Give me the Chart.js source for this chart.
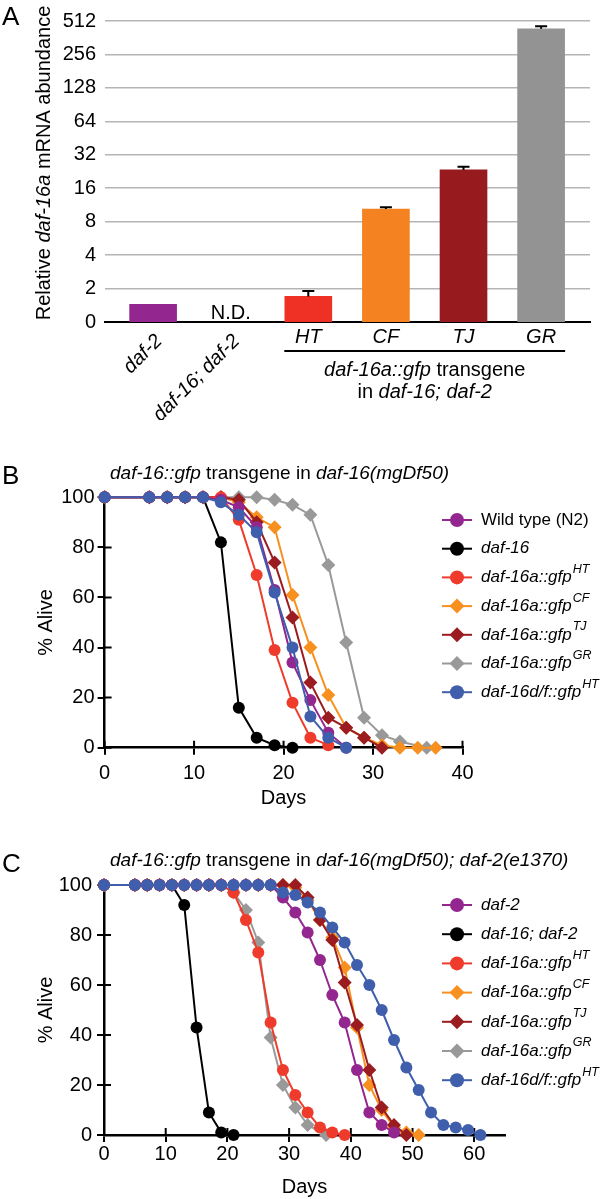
<!DOCTYPE html>
<html>
<head>
<meta charset="utf-8">
<title>daf-16a abundance and lifespan</title>
<script src="https://cdn.jsdelivr.net/npm/chart.js@4.4.1/dist/chart.umd.min.js"></script>
<style>
  body { margin: 0; background: #fff; }
  #page { position: relative; width: 600px; height: 1199px; overflow: hidden; }
  canvas { position: absolute; left: 0; }
</style>
</head>
<body>
<div id="page">
  <canvas id="chartA" width="600" height="420" style="top:0"></canvas>
  <canvas id="chartB" width="600" height="360" style="top:455px"></canvas>
  <canvas id="chartC" width="600" height="359" style="top:840px"></canvas>
</div>
<script>
// ---------- panel A: relative daf-16a mRNA ----------
const geneLabels = ['daf-2', 'daf-16; daf-2', 'HT', 'CF', 'TJ', 'GR'];
const abundance = [1.44, null, 1.7, 10.4, 23.4, 436];
const abundanceErrTop = [null, null, 1.9, 10.8, 25, 459];
const abundanceTicks = [1, 2, 4, 8, 16, 32, 64, 128, 256, 512];
const barColors = ['#93278f', 'rgba(0,0,0,0)', '#ee3124', '#f58220', '#971b1e', '#939393'];

// ---------- panel B: daf-16(mgDf50) background ----------
const bLabels = ['Wild type (N2)', 'daf-16', 'daf-16a::gfp^HT', 'daf-16a::gfp^CF', 'daf-16a::gfp^TJ', 'daf-16a::gfp^GR', 'daf-16d/f::gfp^HT'];
const bItalic = [false, true, true, true, true, true, true];
const bWildTypeDays = [0, 5, 7, 9, 11, 13, 15, 17, 19, 21, 23, 25, 27];
const bWildTypeAlive = [100, 100, 100, 100, 100, 99, 96, 88, 63, 34, 19, 6, 0];
const bDaf16Days = [0, 5, 7, 9, 11, 13, 15, 17, 19, 21];
const bDaf16Alive = [100, 100, 100, 100, 100, 82, 16, 4, 1, 0];
const bHTDays = [0, 5, 7, 9, 11, 13, 15, 17, 19, 21, 23, 25];
const bHTAlive = [100, 100, 100, 100, 100, 100, 91, 69, 39, 18, 4, 1];
const bCFDays = [0, 5, 7, 9, 11, 13, 15, 17, 19, 21, 23, 25, 27, 29, 31, 33, 35, 37];
const bCFAlive = [100, 100, 100, 100, 100, 100, 98, 92, 88, 61, 40, 21, 8, 4, 1, 0, 0, 0];
const bTJDays = [0, 5, 7, 9, 11, 13, 15, 17, 19, 21, 23, 25, 27, 29, 31];
const bTJAlive = [100, 100, 100, 100, 100, 100, 99, 90, 74, 52, 26, 12, 8, 4, 0];
const bGRDays = [0, 5, 7, 9, 11, 13, 15, 17, 19, 21, 23, 25, 27, 29, 31, 33, 36];
const bGRAlive = [100, 100, 100, 100, 100, 100, 100, 100, 99, 97, 93, 73, 42, 12, 5, 2.5, 0];
const bDfHTDays = [0, 5, 7, 9, 11, 13, 15, 17, 19, 21, 23, 25, 27];
const bDfHTAlive = [100, 100, 100, 100, 100, 98, 93, 86, 62, 40, 12.5, 4, 0];
const bDayTicks = [0, 10, 20, 30, 40];

// ---------- panel C: daf-16(mgDf50); daf-2(e1370) background ----------
const cLabels = ['daf-2', 'daf-16; daf-2', 'daf-16a::gfp^HT', 'daf-16a::gfp^CF', 'daf-16a::gfp^TJ', 'daf-16a::gfp^GR', 'daf-16d/f::gfp^HT'];
const cItalic = [true, true, true, true, true, true, true];
const cDaf2Days = [0, 5, 7, 9, 11, 13, 15, 17, 19, 21, 23, 25, 27, 29, 31, 33, 35, 37, 39, 41, 43, 45, 47];
const cDaf2Alive = [100, 100, 100, 100, 100, 100, 100, 100, 100, 100, 100, 100, 100, 95, 89, 81, 70, 56, 45, 26, 9, 4, 1];
const cDaf16Days = [0, 5, 7, 9, 11, 13, 15, 17, 19, 21];
const cDaf16Alive = [100, 100, 100, 100, 100, 92, 43, 9, 1, 0];
const cHTDays = [0, 5, 7, 9, 11, 13, 15, 17, 19, 21, 23, 25, 27, 29, 31, 33, 35, 37, 39];
const cHTAlive = [100, 100, 100, 100, 100, 100, 100, 100, 100, 97, 86, 73, 45, 26, 16, 9, 3, 1, 0];
const cCFDays = [0, 5, 7, 9, 11, 13, 15, 17, 19, 21, 23, 25, 27, 29, 31, 33, 35, 37, 39, 41, 43, 45, 47, 49, 51];
const cCFAlive = [100, 100, 100, 100, 100, 100, 100, 100, 100, 100, 100, 100, 100, 100, 99, 94, 86, 79, 67, 43, 20, 10, 3, 1, 0];
const cTJDays = [0, 5, 7, 9, 11, 13, 15, 17, 19, 21, 23, 25, 27, 29, 31, 33, 35, 37, 39, 41, 43, 45, 47, 49];
const cTJAlive = [100, 100, 100, 100, 100, 100, 100, 100, 100, 100, 100, 100, 100, 100, 100, 95, 86, 78, 61, 44, 26, 11, 4, 0];
const cGRDays = [0, 5, 7, 9, 11, 13, 15, 17, 19, 21, 23, 25, 27, 29, 31, 33, 36];
const cGRAlive = [100, 100, 100, 100, 100, 100, 100, 100, 100, 97, 90, 77, 39, 20, 11, 4, 0];
const cDfHTDays = [0, 5, 7, 9, 11, 13, 15, 17, 19, 21, 23, 25, 27, 29, 31, 33, 35, 37, 39, 41, 43, 45, 47, 49, 51, 53, 55, 57, 59, 61];
const cDfHTAlive = [100, 100, 100, 100, 100, 100, 100, 100, 100, 100, 100, 100, 100, 97, 96, 93, 89, 83, 77, 68, 60, 50, 38, 27, 18, 9, 4, 3, 2, 0];
const cDayTicks = [0, 10, 20, 30, 40, 50, 60];

const aliveTicks = [0, 20, 40, 60, 80, 100];

// shared look of the seven survival series (same order as the legends)
const seriesColors = ['#93278f', '#000000', '#ef3b2c', '#f7901e', '#9b1c20', '#999999', '#3f5fac'];
const seriesShapes = ['circle', 'circle', 'circle', 'rectRot', 'rectRot', 'rectRot', 'circle'];
const drawOrder = [1, 6, 2, 4, 3, 5, 0];

const fontFamily = "'Liberation Sans', Arial, Helvetica, sans-serif";
Chart.defaults.font.family = fontFamily;
Chart.defaults.color = '#000';

function fontStr(size, italic) {
  return (italic ? 'italic ' : '') + size + 'px ' + fontFamily;
}

// draws [[text, italic], ...] pieces one after another
function richText(ctx, parts, x, y, size, align) {
  let total = 0;
  parts.forEach(p => { ctx.font = fontStr(size, p[1]); total += ctx.measureText(p[0]).width; });
  let cx = align === 'center' ? x - total / 2 : x;
  ctx.textAlign = 'left';
  parts.forEach(p => {
    ctx.font = fontStr(size, p[1]);
    ctx.fillText(p[0], cx, y);
    cx += ctx.measureText(p[0]).width;
  });
}

function drawMarker(ctx, shape, x, y, color) {
  ctx.fillStyle = color;
  ctx.beginPath();
  if (shape === 'circle') {
    ctx.arc(x, y, 7, 0, Math.PI * 2);
  } else {
    ctx.moveTo(x, y - 7.5); ctx.lineTo(x + 7.5, y); ctx.lineTo(x, y + 7.5); ctx.lineTo(x - 7.5, y);
    ctx.closePath();
  }
  ctx.fill();
}

// ---------- panel A plugins ----------
const errorBars = {
  id: 'errorBars',
  afterDatasetsDraw(chart) {
    const {ctx, scales: {x, y}} = chart;
    ctx.save();
    ctx.strokeStyle = '#000';
    ctx.lineWidth = 2;
    abundanceErrTop.forEach((top, i) => {
      if (top == null) return;
      const px = x.getPixelForValue(i);
      const yBar = y.getPixelForValue(abundance[i]);
      const yTop = y.getPixelForValue(top);
      ctx.beginPath();
      ctx.moveTo(px, yBar); ctx.lineTo(px, yTop);
      ctx.moveTo(px - 6, yTop); ctx.lineTo(px + 6, yTop);
      ctx.stroke();
    });
    ctx.restore();
  }
};

const panelAText = {
  id: 'panelAText',
  afterDraw(chart) {
    const {ctx, scales: {x}} = chart;
    const base = chart.chartArea.bottom;
    ctx.save();
    ctx.fillStyle = '#000';
    ctx.textBaseline = 'alphabetic';
    ctx.font = fontStr(26, false);
    ctx.textAlign = 'left';
    ctx.fillText('A', 2, 25);

    // N.D. sits where the missing bar would be
    ctx.font = fontStr(20, false);
    ctx.textAlign = 'center';
    ctx.fillText('N.D.', x.getPixelForValue(1), base - 3);

    // the two strains, tilted
    ctx.textBaseline = 'middle';
    [0, 1].forEach(i => {
      ctx.save();
      ctx.translate(x.getPixelForValue(i) + 6, base + 16);
      ctx.rotate(-Math.PI / 4);
      ctx.font = fontStr(20, true);
      ctx.textAlign = 'right';
      ctx.fillText(geneLabels[i], 0, 0);
      ctx.restore();
    });

    // transgene lines
    ctx.font = fontStr(20, true);
    ctx.textAlign = 'center';
    [2, 3, 4, 5].forEach(i => ctx.fillText(geneLabels[i], x.getPixelForValue(i), base + 15));
    const x1 = x.getPixelForValue(2) - 24, x2 = x.getPixelForValue(5) + 24;
    ctx.strokeStyle = '#000';
    ctx.lineWidth = 2;
    ctx.beginPath(); ctx.moveTo(x1, base + 29); ctx.lineTo(x2, base + 29); ctx.stroke();
    const mid = (x1 + x2) / 2;
    richText(ctx, [['daf-16a::gfp', true], [' transgene', false]], mid, base + 48, 20, 'center');
    richText(ctx, [['in ', false], ['daf-16; daf-2', true]], mid, base + 70, 20, 'center');

    // rotated y title
    ctx.save();
    ctx.translate(44, 163);
    ctx.rotate(-Math.PI / 2);
    richText(ctx, [['Relative ', false], ['daf-16a', true], [' mRNA abundance', false]], 0, 0, 20, 'center');
    ctx.restore();
    ctx.restore();
  }
};

new Chart(document.getElementById('chartA'), {
  type: 'bar',
  data: {
    datasets: [{
      data: geneLabels.map((g, i) => ({x: i, y: abundance[i]})),
      backgroundColor: barColors,
      borderWidth: 0,
      barThickness: 47
    }]
  },
  options: {
    responsive: false,
    animation: false,
    devicePixelRatio: 1,
    layout: {padding: {top: 11, right: 10, left: 0, bottom: 0}},
    plugins: {legend: {display: false}, tooltip: {enabled: false}},
    scales: {
      x: {
        type: 'linear', min: -0.62, max: 5.63, offset: false,
        ticks: {display: false},
        grid: {display: false},
        border: {display: true, color: '#000', width: 2},
        afterFit: s => { s.height = 98; }
      },
      y: {
        type: 'logarithmic', min: 1, max: 512,
        afterBuildTicks: s => { s.ticks = abundanceTicks.map(v => ({value: v})); },
        ticks: {callback: v => (v === 1 ? '0' : String(v)), font: {size: 20}, padding: 9, autoSkip: false},
        grid: {color: c => (c.tick && c.tick.value === 1 ? 'rgba(0,0,0,0)' : '#b5b5b5'), lineWidth: 1.5, drawTicks: false},
        border: {display: false},
        afterFit: s => { s.width = 105; }
      }
    }
  },
  plugins: [errorBars, panelAText]
});

// ---------- survival panels ----------
// tick marks cross the axes: Chart.js draws the outer half, this draws the inner half
const innerTicks = {
  id: 'innerTicks',
  beforeDatasetsDraw(chart) {
    const {ctx, chartArea: a, scales: {x, y}} = chart;
    ctx.save();
    ctx.strokeStyle = '#000';
    ctx.lineWidth = 2;
    ctx.beginPath();
    x.ticks.forEach(t => { const p = x.getPixelForValue(t.value); ctx.moveTo(p, a.bottom); ctx.lineTo(p, a.bottom - 7); });
    y.ticks.forEach(t => { const p = y.getPixelForValue(t.value); ctx.moveTo(a.left, p); ctx.lineTo(a.left + 7, p); });
    ctx.stroke();
    ctx.restore();
  }
};

function panelExtras(letter, letterY, title, titleY, labels, italic, legendTop, legendStep) {
  return {
    id: 'panelExtras',
    afterDraw(chart) {
      const ctx = chart.ctx;
      ctx.save();
      ctx.fillStyle = '#000';
      ctx.textBaseline = 'alphabetic';
      ctx.font = fontStr(26, false);
      ctx.textAlign = 'left';
      ctx.fillText(letter, 2, letterY);
      richText(ctx, title, 110, titleY, 19, 'left');

      ctx.textBaseline = 'middle';
      labels.forEach((lab, i) => {
        const y = legendTop + legendStep * i;
        const c = seriesColors[i];
        ctx.strokeStyle = c;
        ctx.lineWidth = 2;
        ctx.beginPath(); ctx.moveTo(442, y); ctx.lineTo(472, y); ctx.stroke();
        drawMarker(ctx, seriesShapes[i], 457, y, c);
        const [main, sup] = lab.split('^');
        ctx.fillStyle = '#000';
        ctx.textAlign = 'left';
        ctx.font = fontStr(17, italic[i]);
        ctx.fillText(main, 481, y);
        if (sup) {
          const w = ctx.measureText(main).width;
          ctx.font = fontStr(12.5, true);
          ctx.fillText(sup, 482 + w, y - 8);
        }
      });
      ctx.restore();
    }
  };
}

function survivalChart(canvasId, daysList, aliveList, dayTicks, xMax, geo, extras) {
  const datasets = daysList.map((days, i) => ({
    data: days.map((d, j) => ({x: d, y: aliveList[i][j]})),
    borderColor: seriesColors[i],
    backgroundColor: seriesColors[i],
    borderWidth: 2,
    pointStyle: seriesShapes[i],
    pointRadius: seriesShapes[i] === 'circle' ? 6 : 7,
    pointHoverRadius: seriesShapes[i] === 'circle' ? 6 : 7,
    pointBorderWidth: 0,
    tension: 0,
    clip: false,
    order: drawOrder[i]
  }));

  return new Chart(document.getElementById(canvasId), {
    type: 'line',
    data: {datasets},
    options: {
      responsive: false,
      animation: false,
      devicePixelRatio: 1,
      layout: {padding: {top: geo.top, right: geo.right, left: 0, bottom: 0}},
      plugins: {legend: {display: false}, tooltip: {enabled: false}},
      scales: {
        x: {
          type: 'linear', min: 0, max: xMax,
          afterBuildTicks: s => { s.ticks = dayTicks.map(v => ({value: v})); },
          ticks: {font: {size: 20}, padding: geo.xTickPad, maxRotation: 0, autoSkip: false},
          grid: {drawOnChartArea: false, tickLength: 7, color: '#000', lineWidth: 2},
          border: {color: '#000', width: 2.5},
          title: {display: true, text: 'Days', font: {size: 20}, padding: {top: 0, bottom: geo.daysPad}},
          afterFit: s => { s.height = geo.xHeight; }
        },
        y: {
          type: 'linear', min: 0, max: 100,
          afterBuildTicks: s => { s.ticks = aliveTicks.map(v => ({value: v})); },
          ticks: {font: {size: 20}, padding: geo.yTickPad, autoSkip: false},
          grid: {drawOnChartArea: false, tickLength: 7, color: '#000', lineWidth: 2},
          border: {color: '#000', width: 2.5},
          title: {display: true, text: '% Alive', font: {size: 20}, padding: {top: 34, bottom: 0}},
          afterFit: s => { s.width = geo.yWidth; }
        }
      }
    },
    plugins: [innerTicks, extras]
  });
}

survivalChart('chartB',
  [bWildTypeDays, bDaf16Days, bHTDays, bCFDays, bTJDays, bGRDays, bDfHTDays],
  [bWildTypeAlive, bDaf16Alive, bHTAlive, bCFAlive, bTJAlive, bGRAlive, bDfHTAlive],
  bDayTicks, 40,
  {top: 42.3, right: 137.5, yWidth: 104.6, xHeight: 67.3, xTickPad: 7, yTickPad: 3, daysPad: 5},
  panelExtras('B', 29,
    [['daf-16::gfp', true], [' transgene in ', false], ['daf-16(mgDf50)', true]], 24,
    bLabels, bItalic, 65, 28.7));

survivalChart('chartC',
  [cDaf2Days, cDaf16Days, cHTDays, cCFDays, cTJDays, cGRDays, cDfHTDays],
  [cDaf2Alive, cDaf16Alive, cHTAlive, cCFAlive, cTJAlive, cGRAlive, cDfHTAlive],
  cDayTicks, 65,
  {top: 45, right: 94.9, yWidth: 104, xHeight: 64, xTickPad: 0, yTickPad: 5, daysPad: 0},
  panelExtras('C', 32,
    [['daf-16::gfp', true], [' transgene in ', false], ['daf-16(mgDf50); daf-2(e1370)', true]], 26,
    cLabels, cItalic, 65, 29.2));
</script>
</body>
</html>
